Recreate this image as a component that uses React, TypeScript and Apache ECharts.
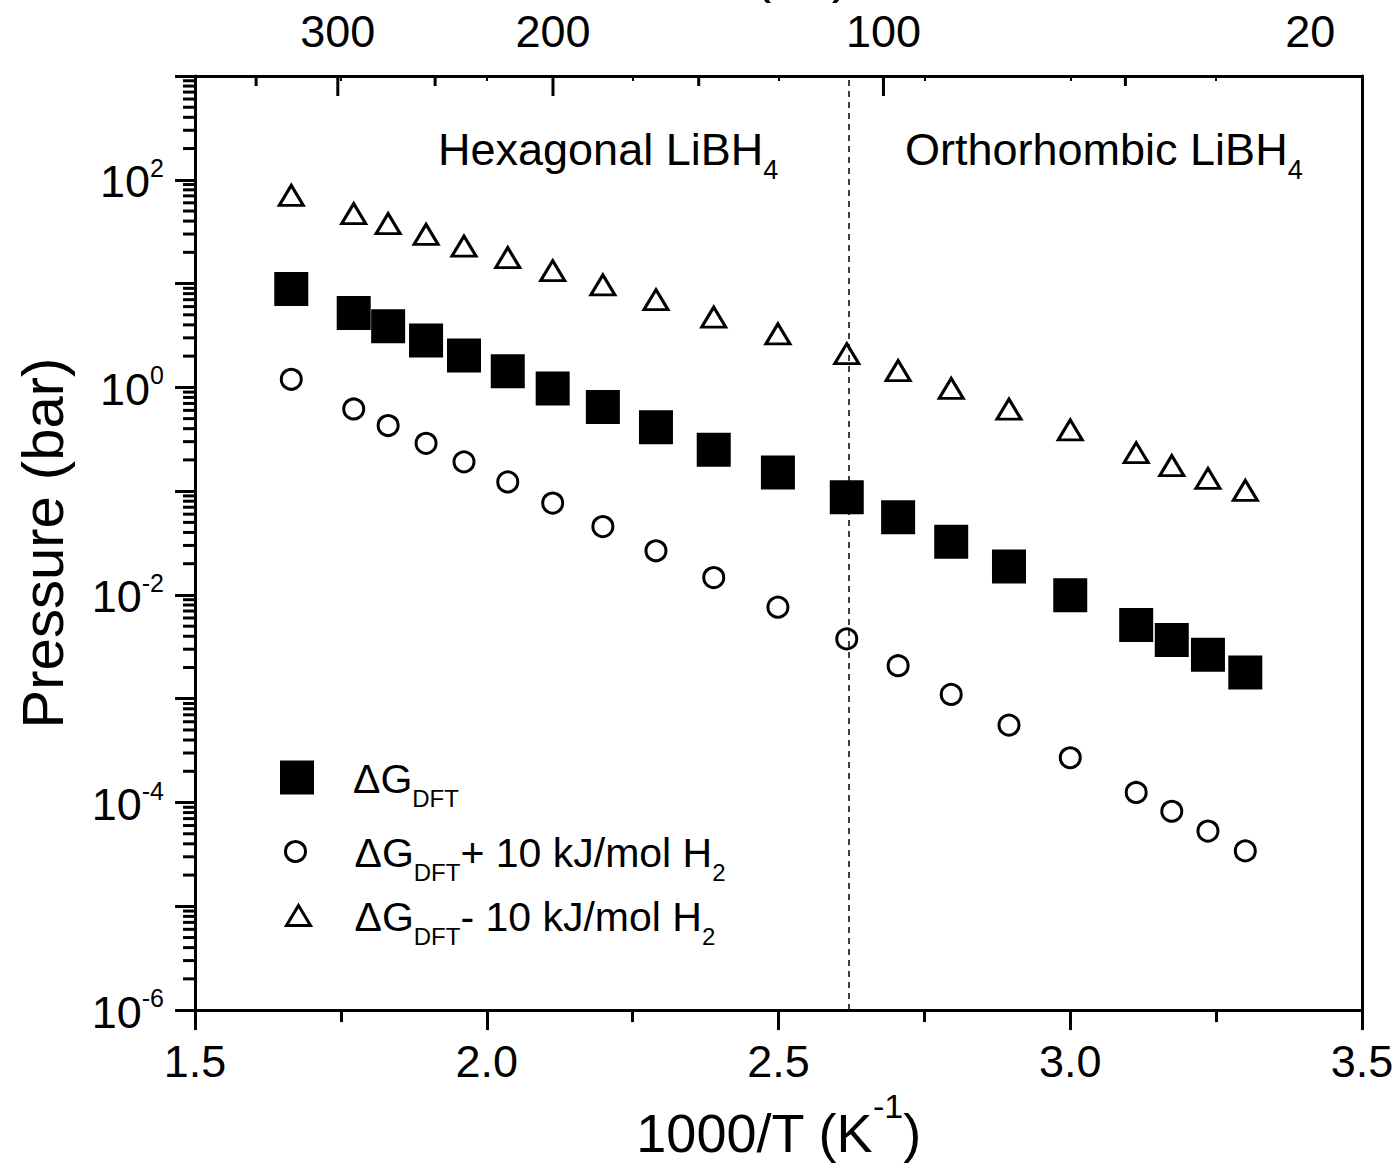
import React, { useEffect, useRef } from "react";
import * as echarts from "echarts";

// ---- data ----
const invT = [1.665, 1.772, 1.831, 1.896, 1.961, 2.036, 2.113, 2.199, 2.29, 2.389, 2.499, 2.617, 2.705, 2.796, 2.895, 3.0, 3.113, 3.174, 3.236, 3.3];
const pDFT = [8.86, 5.22, 3.89, 2.83, 2.03, 1.43, 0.974, 0.647, 0.413, 0.2505, 0.151, 0.0873, 0.0562, 0.0325, 0.01875, 0.00991, 0.00513, 0.00369, 0.00265, 0.00179];
const pPlus10 = [1.197, 0.619, 0.429, 0.289, 0.1916, 0.1227, 0.0768, 0.0456, 0.02665, 0.01472, 0.00762, 0.00377, 0.00208, 0.0011, 0.000557, 0.00027, 0.000125, 8.24e-5, 5.31e-5, 3.42e-5];
const pMinus10 = [70.7, 47.3, 37.9, 29.8, 23.0, 17.8, 13.3, 9.72, 6.99, 4.76, 3.28, 2.11, 1.45, 0.978, 0.617, 0.389, 0.2345, 0.176, 0.1325, 0.1018];
const transitionX = 2.617;
const topMajorC = [300, 200, 100];
const topMinorC = [350, 250, 150, 50];
const topLabelC = [300, 200, 100, 20];
const yDecades = [-6, -5, -4, -3, -2, -1, 0, 1, 2];
const logMultipliers = [2, 3, 4, 5, 6, 7, 8, 9];

const X_MIN = 1.5;
const X_MAX = 3.5;
const Y_MIN = 1e-6;
const Y_MAX = 1e3;

const FONT = '"Liberation Sans", Arial, Helvetica, sans-serif';

const cToInv = (c: number) => 1000 / (c + 273.15);

export default function App() {
  const ref = useRef<HTMLDivElement>(null);

  useEffect(() => {
    if (!ref.current) return;
    const chart = echarts.init(ref.current, null, { renderer: "svg" });

    const sqData = invT.map((x, i) => [x, pDFT[i]]);
    const ciData = invT.map((x, i) => [x, pPlus10[i]]);
    const trData = invT.map((x, i) => [x, pMinus10[i]]);

    const minorY: number[][] = [];
    yDecades.forEach((e) => logMultipliers.forEach((m) => minorY.push([X_MIN, m * Math.pow(10, e)])));

    const topTickData = [
      ...topMajorC.map((c) => [cToInv(c), Y_MAX, 20]),
      ...topMinorC.map((c) => [cToInv(c), Y_MAX, 10]),
    ];
    const topLabelData = topLabelC.map((c) => [cToInv(c), Y_MAX]);

    const subRich = (main: number, sub: number, pad: number) => ({
      m: { fontSize: main, fontFamily: FONT, color: "#000", verticalAlign: "top" },
      s: { fontSize: sub, fontFamily: FONT, color: "#000", verticalAlign: "top", padding: [pad, 0, 0, 0] },
    });

    const legendNames: Record<string, string> = {
      dft: "{m|\u0394G}{s|DFT}",
      plus: "{m|\u0394G}{s|DFT}{m|+ 10 kJ/mol H}{s|2}",
      minus: "{m|\u0394G}{s|DFT}{m|- 10 kJ/mol H}{s|2}",
    };

    const mkLegend = (name: string, icon: string, cx: number, cy: number, w: number, h: number, itemStyle: any) => ({
      show: true,
      orient: "vertical",
      left: cx - w / 2,
      top: cy - h / 2,
      padding: 0,
      itemWidth: w,
      itemHeight: h,
      selectedMode: false,
      data: [{ name, icon, itemStyle }],
      formatter: (n: string) => legendNames[n],
      textStyle: {
        fontFamily: FONT,
        color: "#000",
        padding: [13, 0, 0, 353 - (cx + w / 2) - 5],
        rich: subRich(41, 24, 28),
      },
    });

    const option: any = {
      animation: false,
      backgroundColor: "#fff",
      grid: { left: 195, right: 36, top: 76, bottom: 146, containLabel: false },
      xAxis: [
        {
          type: "value",
          min: X_MIN,
          max: X_MAX,
          interval: 0.5,
          position: "bottom",
          axisLine: { show: true, onZero: false, lineStyle: { color: "#000", width: 3 } },
          axisTick: { show: true, inside: false, length: 20, lineStyle: { color: "#000", width: 3 } },
          minorTick: { show: true, splitNumber: 2, length: 12, lineStyle: { color: "#000", width: 3 } },
          splitLine: { show: false },
          axisLabel: {
            fontSize: 45,
            fontFamily: FONT,
            color: "#000",
            margin: 29,
            formatter: (v: number) => v.toFixed(1),
          },
          name: "{m|1000/T (K}{s|-1}{m|)}",
          nameLocation: "middle",
          nameGap: 73,
          nameTextStyle: {
            rich: {
              m: { fontSize: 54, fontFamily: FONT, color: "#000", verticalAlign: "top", padding: [17, 0, 0, 0] },
              s: { fontSize: 34, fontFamily: FONT, color: "#000", verticalAlign: "top" },
            },
          },
        },
        {
          type: "value",
          min: X_MIN,
          max: X_MAX,
          interval: 0.25,
          position: "top",
          axisLine: { show: true, onZero: false, lineStyle: { color: "#000", width: 3 } },
          axisTick: { show: true, inside: true, length: 5, lineStyle: { color: "#000", width: 2 } },
          axisLabel: { show: false },
          splitLine: { show: false },
        },
      ],
      yAxis: [
        {
          type: "log",
          logBase: 10,
          min: Y_MIN,
          max: Y_MAX,
          splitNumber: 9,
          position: "left",
          axisLine: { show: true, onZero: false, lineStyle: { color: "#000", width: 3 } },
          axisTick: { show: true, inside: false, length: 20, lineStyle: { color: "#000", width: 3 } },
          splitLine: { show: false },
          axisLabel: {
            interval: 0,
            margin: 31,
            formatter: (v: number) => {
              const e = Math.round(Math.log10(v));
              if (e % 2 !== 0) return "";
              return `{b|10}{e|${e}}`;
            },
            rich: {
              b: { fontSize: 45, fontFamily: FONT, color: "#000", verticalAlign: "top", padding: [4, 0, 0, 0] },
              e: { fontSize: 25, fontFamily: FONT, color: "#000", verticalAlign: "top" },
            },
          },
          name: "Pressure (bar)",
          nameLocation: "middle",
          nameGap: 124,
          nameTextStyle: { fontSize: 58, fontFamily: FONT, color: "#000" },
        },
        {
          type: "log",
          logBase: 10,
          min: Y_MIN,
          max: Y_MAX,
          position: "right",
          axisLine: { show: true, onZero: false, lineStyle: { color: "#000", width: 3 } },
          axisTick: { show: false },
          axisLabel: { show: false },
          splitLine: { show: false },
        },
      ],
      legend: [
        mkLegend("dft", "rect", 297, 775, 34, 34, { color: "#000", borderWidth: 0 }),
        mkLegend("plus", "circle", 294, 842, 20, 20, { color: "#fff", borderColor: "#000", borderWidth: 3 }),
        mkLegend("minus", "triangle", 297, 906, 24, 20, { color: "#fff", borderColor: "#000", borderWidth: 3 }),
      ],
      graphic: [
        {
          type: "text",
          left: 438,
          top: 127,
          style: { text: "{m|Hexagonal LiBH}{s|4}", rich: subRich(45, 27, 29) },
        },
        {
          type: "text",
          left: 905,
          top: 127,
          style: { text: "{m|Orthorhombic LiBH}{s|4}", rich: subRich(45, 27, 29) },
        },
        {
          type: "text",
          x: 778,
          y: 0,
          style: {
            text: "T (\u00B0C)",
            fontSize: 54,
            fontFamily: FONT,
            fill: "#000",
            align: "center",
            verticalAlign: "bottom",
          },
        },
      ],
      series: [
        {
          name: "dft",
          type: "scatter",
          data: sqData,
          symbol: "rect",
          symbolSize: 34,
          itemStyle: { color: "#000", opacity: 1 },
          z: 3,
          markLine: {
            silent: true,
            symbol: ["none", "none"],
            label: { show: false },
            lineStyle: { color: "#000", width: 1.5, type: [6, 5] },
            data: [{ xAxis: transitionX }],
            z: 1,
          },
        },
        {
          name: "plus",
          type: "scatter",
          data: ciData,
          symbol: "circle",
          symbolSize: 20,
          itemStyle: { color: "rgba(255,255,255,0)", borderColor: "#000", borderWidth: 3, opacity: 1 },
          z: 3,
        },
        {
          name: "minus",
          type: "scatter",
          data: trData,
          symbol: "triangle",
          symbolSize: [24, 20],
          itemStyle: { color: "rgba(255,255,255,0)", borderColor: "#000", borderWidth: 3, opacity: 1 },
          z: 3,
        },
        {
          name: "yMinorTicks",
          type: "custom",
          clip: false,
          silent: true,
          data: minorY,
          renderItem: (_p: any, api: any) => {
            const pt = api.coord([api.value(0), api.value(1)]);
            return {
              type: "line",
              shape: { x1: pt[0] - 12, y1: pt[1], x2: pt[0], y2: pt[1] },
              style: { stroke: "#000", lineWidth: 3 },
            };
          },
          z: 5,
        },
        {
          name: "topTicks",
          type: "custom",
          clip: false,
          silent: true,
          data: topTickData,
          renderItem: (_p: any, api: any) => {
            const pt = api.coord([api.value(0), api.value(1)]);
            const len = api.value(2);
            return {
              type: "line",
              shape: { x1: pt[0], y1: pt[1], x2: pt[0], y2: pt[1] + len },
              style: { stroke: "#000", lineWidth: 3 },
            };
          },
          z: 5,
        },
        {
          name: "topLabels",
          type: "custom",
          clip: false,
          silent: true,
          data: topLabelData,
          renderItem: (p: any, api: any) => {
            const pt = api.coord([api.value(0), api.value(1)]);
            return {
              type: "text",
              x: pt[0],
              y: pt[1] - 45,
              style: {
                text: String(topLabelC[p.dataIndex]),
                fontSize: 45,
                fontFamily: FONT,
                fill: "#000",
                align: "center",
                verticalAlign: "middle",
              },
            };
          },
          z: 5,
        },
      ],
    };

    chart.setOption(option);
    return () => chart.dispose();
  }, []);

  return (
    <div
      ref={ref}
      style={{ position: "fixed", left: 0, top: 0, width: 1398, height: 1165, background: "#fff" }}
    />
  );
}
